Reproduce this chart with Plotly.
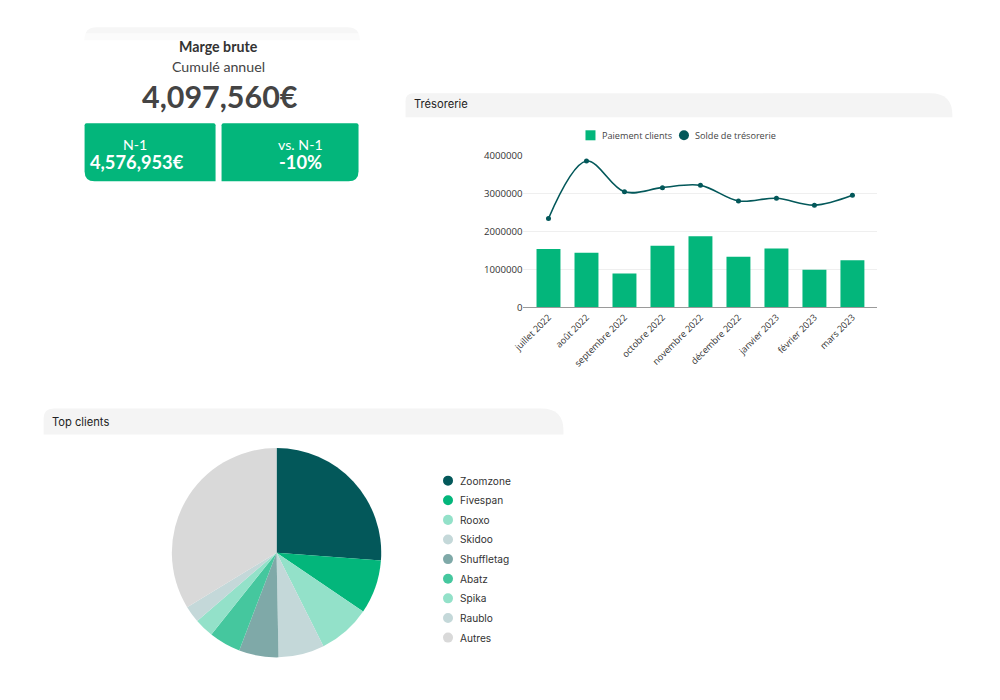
import plotly.graph_objects as go

# ---------------- data ----------------
months = ["juillet 2022", "août 2022", "septembre 2022", "octobre 2022", "novembre 2022",
          "décembre 2022", "janvier 2023", "février 2023", "mars 2023"]
paiement_clients = [1540000, 1440000, 890000, 1620000, 1870000, 1330000, 1550000, 990000, 1240000]
solde_tresorerie = [2340000, 3850000, 3040000, 3150000, 3210000, 2800000, 2870000, 2690000, 2950000]
y_ticks = [0, 1000000, 2000000, 3000000, 4000000]

clients = ["Zoomzone", "Fivespan", "Rooxo", "Skidoo", "Shuffletag", "Abatz", "Spika", "Raublo", "Autres"]
client_share = [26.2, 8.3, 8.1, 7.1, 6.1, 4.9, 3.0, 2.6, 33.7]

kpi_title = "Marge brute"
kpi_subtitle = "Cumulé annuel"
kpi_value = "4,097,560€"
kpi_prev_label = "N-1"
kpi_prev_value = "4,576,953€"
kpi_delta_label = "vs. N-1"
kpi_delta_value = "-10%"

# ---------------- styles ----------------
GREEN = "#03B67B"
DARK = "#03585A"
client_colors = ["#03585A", "#03B67B", "#93E1C9", "#C4D8D9", "#7FA9A8",
                 "#45C79E", "#93E1C9", "#C4D8D9", "#D9D9D9"]
OFF = 8
W, H = 1000 - 2 * OFF, 700 - 2 * OFF
SX, CX = 0.988, 3.5
SY, CY = 0.98, -1.0
FS = 1.015


def fpx(x):
    return (x - CX) / SX - OFF


def fpy(y):
    return (y - CY) / SY - OFF


def px(x):
    return fpx(x) / W


def py(y):
    return 1 - fpy(y) / H


def rpath(x0, y0, x1, y1, rtl=0, rtr=0, rbr=0, rbl=0):
    def p(x, y):
        return f"{px(x):.5f},{py(y):.5f}"
    s = f"M {p(x0 + rtl, y0)} L {p(x1 - rtr, y0)} "
    if rtr:
        s += f"Q {p(x1, y0)} {p(x1, y0 + rtr)} "
    s += f"L {p(x1, y1 - rbr)} "
    if rbr:
        s += f"Q {p(x1, y1)} {p(x1 - rbr, y1)} "
    s += f"L {p(x0 + rbl, y1)} "
    if rbl:
        s += f"Q {p(x0, y1)} {p(x0, y1 - rbl)} "
    s += f"L {p(x0, y0 + rtl)} "
    if rtl:
        s += f"Q {p(x0, y0)} {p(x0 + rtl, y0)} "
    return s + "Z"


fig = go.Figure()

# Bar + line chart
fig.add_trace(go.Bar(
    x=months, y=paiement_clients, name="Paiement clients",
    marker=dict(color=GREEN, line=dict(width=0)),
    xaxis="x", yaxis="y", hoverinfo="x+y"))
fig.add_trace(go.Scatter(
    x=months, y=solde_tresorerie, name="Solde de trésorerie",
    mode="lines+markers", line=dict(color=DARK, width=1.6, shape="spline", smoothing=1.0),
    marker=dict(color=DARK, size=5), xaxis="x", yaxis="y"))

# Pie (square domain in figure pixels)
pcx, pcy = fpx(276), fpy(552)
pr = 105 / ((SX + SY) / 2)
fig.add_trace(go.Pie(
    labels=clients, values=client_share, sort=False, direction="clockwise", rotation=0,
    marker=dict(colors=client_colors, line=dict(width=0)), textinfo="none",
    domain=dict(x=[(pcx - pr) / W, (pcx + pr) / W],
                y=[1 - (pcy + pr) / H, 1 - (pcy - pr) / H]),
    hoverinfo="label+percent"))

shapes = []
annotations = []

# KPI card
shapes.append(dict(type="path", xref="paper", yref="paper",
                   path=rpath(84, 27, 359, 40, rtl=12, rtr=12),
                   fillcolor="#F6F6F6", line=dict(width=0), layer="below"))
shapes.append(dict(type="path", xref="paper", yref="paper",
                   path=rpath(84, 33, 359, 42),
                   fillcolor="#FFFFFF", line=dict(width=0), opacity=0.6, layer="below"))
shapes.append(dict(type="path", xref="paper", yref="paper",
                   path=rpath(84, 123, 215, 181, rtl=2, rtr=2, rbl=10),
                   fillcolor=GREEN, line=dict(width=0)))
shapes.append(dict(type="path", xref="paper", yref="paper",
                   path=rpath(221, 123, 358, 181, rtl=2, rtr=2, rbr=10),
                   fillcolor=GREEN, line=dict(width=0)))


def ann(x, y, text, size, color, family="Lato", weight=400, xanchor="center"):
    annotations.append(dict(x=px(x), y=py(y), xref="paper", yref="paper", text=text,
                            showarrow=False, xanchor=xanchor, yanchor="middle",
                            font=dict(size=size * FS, color=color, family=family,
                                      weight=weight)))


ann(218, 46, kpi_title, 14, "#333333", weight=700)
ann(218, 66, kpi_subtitle, 14, "#444444")
ann(219, 96, kpi_value, 30, "#444444", weight=700)
ann(134, 144, kpi_prev_label, 14, "#FFFFFF")
ann(136, 162, kpi_prev_value, 18, "#FFFFFF", weight=700)
ann(300, 144, kpi_delta_label, 14, "#FFFFFF")
ann(300, 162, kpi_delta_value, 18, "#FFFFFF", weight=700)

# Section headers
shapes.append(dict(type="path", xref="paper", yref="paper",
                   path=rpath(405, 93, 952, 117, rtl=8, rtr=22),
                   fillcolor="#F4F4F4", line=dict(width=0), layer="below"))
ann(411, 104, "Trésorerie", 11, "#222222", family="Inter", xanchor="left")
shapes.append(dict(type="path", xref="paper", yref="paper",
                   path=rpath(43, 408, 563, 434, rtl=10, rtr=22),
                   fillcolor="#F4F4F4", line=dict(width=0), layer="below"))
ann(49, 421, "Top clients", 11, "#222222", family="Inter", xanchor="left")

# Bar chart legend (manual)
shapes.append(dict(type="rect", xref="paper", yref="paper",
                   x0=px(585), x1=px(595), y0=py(140), y1=py(130),
                   fillcolor=GREEN, line=dict(width=0)))
ann(600, 135, "Paiement clients", 9, "#444444", family="Open Sans", xanchor="left")
shapes.append(dict(type="circle", xref="paper", yref="paper",
                   x0=px(678.5), x1=px(688.5), y0=py(140), y1=py(130),
                   fillcolor=DARK, line=dict(width=0)))
ann(693, 135, "Solde de trésorerie", 9, "#444444", family="Open Sans", xanchor="left")

# Pie legend (manual)
for i, (name, col) in enumerate(zip(clients, client_colors)):
    yc = 480 + i * 19.6
    shapes.append(dict(type="circle", xref="paper", yref="paper",
                       x0=px(442.5), x1=px(452.5), y0=py(yc + 5), y1=py(yc - 5),
                       fillcolor=col, line=dict(width=0)))
    ann(457, yc, name, 10, "#333333", family="Inter", xanchor="left")

fig.update_layout(
    width=W, height=H, margin=dict(l=0, r=0, t=0, b=0),
    paper_bgcolor="white", plot_bgcolor="white", showlegend=False,
    bargap=0.37,
    xaxis=dict(domain=[px(523), px(877)], range=[-0.658, 8.658], type="category",
               tickangle=-45, tickfont=dict(size=9 * FS, color="#333333", family="Open Sans"),
               showgrid=False, showline=True, linecolor="#9A9A9A", linewidth=1,
               ticks="", zeroline=False, fixedrange=True),
    yaxis=dict(domain=[py(307), py(155)], range=[0, 4000000], tickvals=y_ticks,
               tickformat="d", tickfont=dict(size=9.5 * FS, color="#333333", family="Open Sans"),
               showgrid=True, gridcolor="#EFEFEF", gridwidth=1, zeroline=False,
               showline=False, ticks="", fixedrange=True),
    shapes=shapes, annotations=annotations,
)

fig.write_html("out.html")
